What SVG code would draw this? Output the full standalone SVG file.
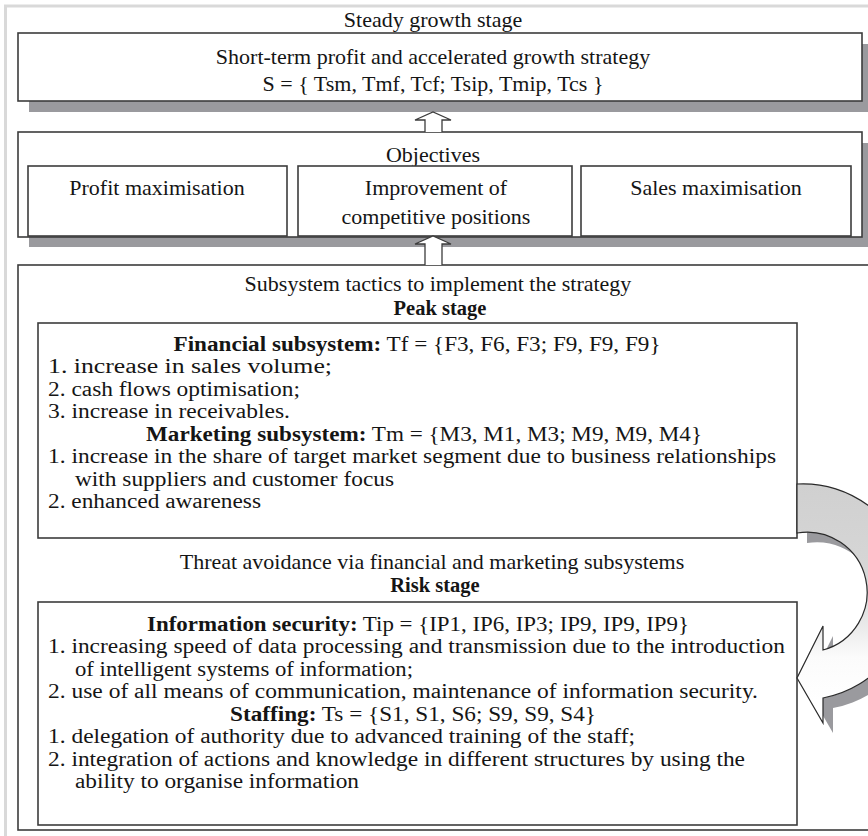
<svg xmlns="http://www.w3.org/2000/svg" width="868" height="836" viewBox="0 0 868 836">
<defs>
<style>
.t{font-family:"Liberation Serif","Times New Roman",serif;font-size:22px;fill:#151515}
.s{font-size:20px}
.c{text-anchor:middle}
.b{font-weight:bold}
.h{font-size:20.5px}
.box{fill:#fff;stroke:#3c3c3c;stroke-width:1.6}
.sh{fill:#9a9a9e}
.ua{fill:#fff;stroke:#3c3c3c;stroke-width:1.3}
</style>
<linearGradient id="g" gradientUnits="userSpaceOnUse" x1="0" y1="484" x2="0" y2="700">
<stop offset="0" stop-color="#d0d0d0"/>
<stop offset="0.5" stop-color="#d8d8d8"/>
<stop offset="0.8" stop-color="#fbfbfb"/>
<stop offset="1" stop-color="#ffffff"/>
</linearGradient>
</defs>
<rect x="0" y="0" width="868" height="836" fill="#fff"/>
<path d="M5.5 836 V6 H868" fill="none" stroke="#d9d9d9" stroke-width="3"/>

<g id="strategy">
<rect class="sh" x="29" y="44" width="845" height="68"/>
<rect class="box" x="18" y="33" width="844" height="68"/>
<text class="t c" x="433" y="27">Steady growth stage</text>
<text class="t c" x="433" y="64">Short-term profit and accelerated growth strategy</text>
<text class="t c" x="433" y="91">S = { Tsm, Tmf, Tcf; Tsip, Tmip, Tcs }</text>
</g>

<g id="objectives">
<rect class="sh" x="29" y="143" width="845" height="104"/>
<rect class="box" x="18" y="132" width="844" height="105"/>
<text class="t c" x="433" y="162">Objectives</text>
</g>
<g id="obj-profit">
<rect class="box" x="28" y="166" width="259" height="70"/>
<text class="t c" x="157" y="195">Profit maximisation</text>
</g>
<g id="obj-competitive">
<rect class="box" x="298" y="166" width="274" height="70"/>
<text class="t c" x="436" y="195">Improvement of</text>
<text class="t c" x="436" y="224">competitive positions</text>
</g>
<g id="obj-sales">
<rect class="box" x="581" y="166" width="270" height="70"/>
<text class="t c" x="716" y="195">Sales maximisation</text>
</g>

<g id="tactics">
<rect class="box" x="18" y="265" width="880" height="565"/>
<text class="t c" x="438" y="291">Subsystem tactics to implement the strategy</text>
<text class="t c b h" x="440" y="315">Peak stage</text>
<text class="t c" x="432" y="569">Threat avoidance via financial and marketing subsystems</text>
<text class="t c b h" x="435" y="592">Risk stage</text>
</g>

<g id="peak">
<rect class="box" x="38" y="323" width="759" height="215"/>
<text class="t s c" x="417" y="351" textLength="487" lengthAdjust="spacingAndGlyphs"><tspan class="b">Financial subsystem:</tspan> Tf = {F3, F6, F3; F9, F9, F9}</text>
<text class="t s" x="48" y="373" textLength="284" lengthAdjust="spacingAndGlyphs">1. increase in sales volume;</text>
<text class="t s" x="48" y="396" textLength="252" lengthAdjust="spacingAndGlyphs">2. cash flows optimisation;</text>
<text class="t s" x="48" y="418" textLength="242" lengthAdjust="spacingAndGlyphs">3. increase in receivables.</text>
<text class="t s c" x="424" y="441" textLength="556" lengthAdjust="spacingAndGlyphs"><tspan class="b">Marketing subsystem:</tspan> Tm = {M3, M1, M3; M9, M9, M4}</text>
<text class="t s" x="48" y="463" textLength="728" lengthAdjust="spacingAndGlyphs">1. increase in the share of target market segment due to business relationships</text>
<text class="t s" x="75" y="486" textLength="319" lengthAdjust="spacingAndGlyphs">with suppliers and customer focus</text>
<text class="t s" x="48" y="508" textLength="213" lengthAdjust="spacingAndGlyphs">2. enhanced awareness</text>
</g>

<g id="risk">
<rect class="box" x="38" y="602" width="759" height="223"/>
<text class="t s c" x="418" y="631" textLength="542" lengthAdjust="spacingAndGlyphs"><tspan class="b">Information security:</tspan> Tip = {IP1, IP6, IP3; IP9, IP9, IP9}</text>
<text class="t s" x="48" y="653" textLength="737" lengthAdjust="spacingAndGlyphs">1. increasing speed of data processing and transmission due to the introduction</text>
<text class="t s" x="75" y="676" textLength="338" lengthAdjust="spacingAndGlyphs">of intelligent systems of information;</text>
<text class="t s" x="48" y="698" textLength="710" lengthAdjust="spacingAndGlyphs">2. use of all means of communication, maintenance of information security.</text>
<text class="t s c" x="413" y="721" textLength="366" lengthAdjust="spacingAndGlyphs"><tspan class="b">Staffing:</tspan> Ts = {S1, S1, S6; S9, S9, S4}</text>
<text class="t s" x="48" y="743" textLength="587" lengthAdjust="spacingAndGlyphs">1. delegation of authority due to advanced training of the staff;</text>
<text class="t s" x="48" y="766" textLength="697" lengthAdjust="spacingAndGlyphs">2. integration of actions and knowledge in different structures by using the</text>
<text class="t s" x="75" y="788" textLength="284" lengthAdjust="spacingAndGlyphs">ability to organise information</text>
</g>

<g id="connectors">
<path class="ua" d="M425 132 V120 H415 L433 112 L451 120 H442 V132"/>
<path class="ua" d="M425 265 V244 H415 L433 236 L451 244 H442 V265"/>
<g id="cycle-arrow">
<path fill="#9a9a9e" transform="translate(10 10)" d="M797 484 A108 108 0 0 1 823 698 V723 L797 678 L823 626 V650 A60 60 0 0 0 797 533 Z"/>
<path fill="url(#g)" stroke="#2a2a2a" stroke-width="1.2" d="M797 484 A108 108 0 0 1 823 698 V723 L797 678 L823 626 V650 A60 60 0 0 0 797 533 Z"/>
</g>
</g>
</svg>
